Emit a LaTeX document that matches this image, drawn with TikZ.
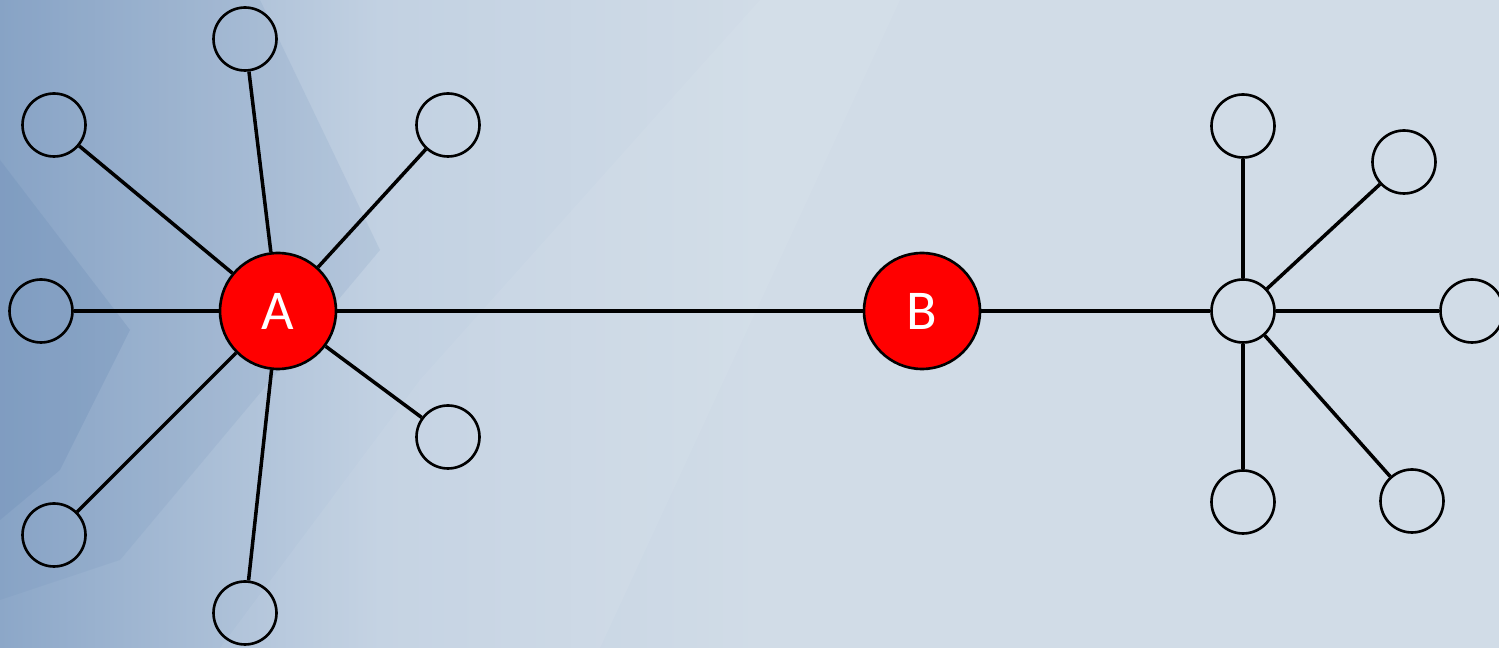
\documentclass[tikz,border=0pt]{standalone}
\usepackage{fontspec}
\setmainfont{Carlito}
\usetikzlibrary{backgrounds}
\definecolor{bgleft}{HTML}{8CA7C8}
\definecolor{bgmid}{HTML}{C2D1E2}
\definecolor{bgright}{HTML}{D1DCE7}
\definecolor{bgdark}{HTML}{6F8FB8}

\begin{document}
\begin{tikzpicture}[x=0.02cm, y=-0.02cm,
                hub/.style={circle, draw=black, line width=1.5pt, fill=red, text=white, minimum size=2.32cm, inner sep=0pt, font=\fontsize{32}{38}\selectfont},
                leaf/.style={circle, draw=black, line width=1.5pt, minimum size=1.26cm, inner sep=0pt},
                edge/.style={draw=black, line width=2pt}]

            % Background
            \useasboundingbox (0,0) rectangle (1499,648);
            \shade[left color=bgleft, right color=bgright, middle color=bgmid] (0,0) rectangle (760,648);
            \fill[bgright] (760,0) rectangle (1499,648);
            \fill[bgdark, opacity=0.3] (0,160) -- (130,330) -- (60,470) -- (0,520) -- cycle;
            \fill[bgdark, opacity=0.15] (0,0) -- (260,0) -- (380,250) -- (120,560) -- (0,600) -- cycle;
            \fill[white, opacity=0.06] (220,648) -- (420,380) -- (760,0) -- (900,0) -- (600,648) -- cycle;

            % Left star
            \node[hub] (A) at (278,311) {A};
            \node[leaf] (a1) at (245,39) {};
            \node[leaf] (a2) at (54,125) {};
            \node[leaf] (a3) at (448,125) {};
            \node[leaf] (a4) at (41,311) {};
            \node[leaf] (a5) at (448,437) {};
            \node[leaf] (a6) at (54,535) {};
            \node[leaf] (a7) at (245,613) {};

            % Middle
            \node[hub] (B) at (922,311) {B};

            % Right star
            \node[leaf] (c) at (1243,311) {};
            \node[leaf] (c1) at (1243,126) {};
            \node[leaf] (c2) at (1404,162) {};
            \node[leaf] (c3) at (1472,311) {};
            \node[leaf] (c4) at (1243,502) {};
            \node[leaf] (c5) at (1412,501) {};

            \foreach \n in {a1,a2,a3,a4,a5,a6,a7}
                \draw[edge] (A) -- (\n);
            \draw[edge] (A) -- (B);
            \draw[edge] (B) -- (c);
            \foreach \n in {c1,c2,c3,c4,c5}
                \draw[edge] (c) -- (\n);

        \end{tikzpicture}
\end{document}
